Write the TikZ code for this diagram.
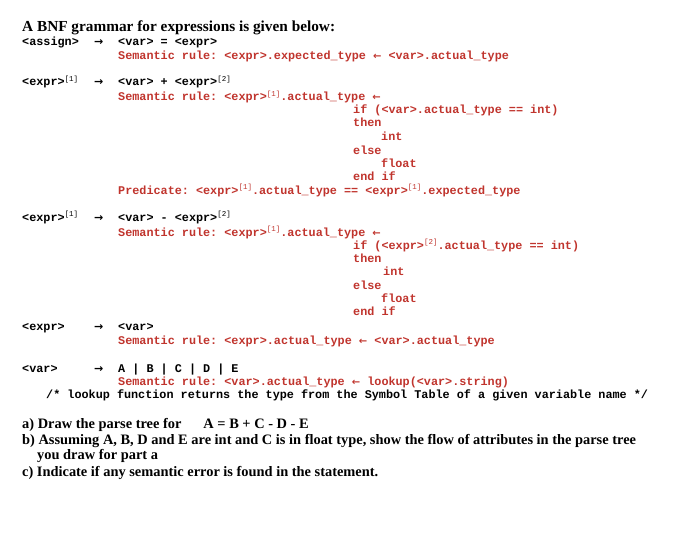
\documentclass[tikz,border=0pt]{standalone}
\usepackage{fontspec}
\setmainfont{Liberation Serif}
\setmonofont{Liberation Mono}
\newfontfamily\arrfont{DejaVu Sans}
\definecolor{semred}{RGB}{192,52,45}
\newcommand{\RA}{{\arrfont\fontsize{11}{11}\selectfont →}}
\newcommand{\LA}{{\arrfont\fontsize{10}{10}\selectfont ←}}
\newcommand{\ssp}[1]{\raisebox{0.4em}{\mdseries\fontsize{7.5}{8}\selectfont[#1]}}
\tikzset{
 x=1pt,y=1pt,
 code/.style={anchor=base west,inner sep=0pt,font=\ttfamily\bfseries\fontsize{11.8}{12}\selectfont},
 sem/.style={code,text=semred},
 ttl/.style={anchor=base west,inner sep=0pt,font=\bfseries\fontsize{15.3}{16}\selectfont},
 qst/.style={anchor=base west,inner sep=0pt,font=\bfseries\fontsize{14.4}{15}\selectfont},
}
\begin{document}
\begin{tikzpicture}
\useasboundingbox (0,0) rectangle (700,-540);
\node[ttl] (t) at (22,-32) {A BNF grammar for expressions is given below:};
% assign
\node[code] (a1) at (22,-46) {<assign>};
\node[code] (a2) at (94,-46) {\RA};
\node[code] (a3) at (118,-46) {<var> = <expr>};
\node[sem] (a4) at (118,-60) {Semantic rule: <expr>.expected\_type \LA{} <var>.actual\_type};
% expr +
\node[code] (b1) at (22,-86) {<expr>\ssp{1}};
\node[code] (b2) at (94,-86) {\RA};
\node[code] (b3) at (118,-86) {<var> + <expr>\ssp{2}};
\node[sem] (b4) at (118,-101) {Semantic rule: <expr>\ssp{1}.actual\_type \LA};
\node[sem] (b5) at (353,-114) {if (<var>.actual\_type == int)};
\node[sem] (b6) at (353,-127) {then};
\node[sem] (b7) at (381,-141) {int};
\node[sem] (b8) at (353,-154) {else};
\node[sem] (b9) at (381,-167) {float};
\node[sem] (b10) at (353,-180) {end if};
\node[sem] (b11) at (118,-194) {Predicate: <expr>\ssp{1}.actual\_type == <expr>\ssp{1}.expected\_type};
% expr -
\node[code] (c1) at (22,-221) {<expr>\ssp{1}};
\node[code] (c2) at (94,-221) {\RA};
\node[code] (c3) at (118,-221) {<var> - <expr>\ssp{2}};
\node[sem] (c4) at (118,-236) {Semantic rule: <expr>\ssp{1}.actual\_type \LA};
\node[sem] (c5) at (353,-249) {if (<expr>\ssp{2}.actual\_type == int)};
\node[sem] (c6) at (353,-262) {then};
\node[sem] (c7) at (383,-275) {int};
\node[sem] (c8) at (353,-289) {else};
\node[sem] (c9) at (381,-302) {float};
\node[sem] (c10) at (353,-315) {end if};
% expr -> var
\node[code] (d1) at (22,-330) {<expr>};
\node[code] (d2) at (94,-330) {\RA};
\node[code] (d3) at (118,-330) {<var>};
\node[sem] (d4) at (118,-344) {Semantic rule: <expr>.actual\_type \LA{} <var>.actual\_type};
% var
\node[code] (e1) at (22,-372) {<var>};
\node[code] (e2) at (94,-372) {\RA};
\node[code] (e3) at (118,-372) {A | B | C | D | E};
\node[sem] (e4) at (118,-385) {Semantic rule: <var>.actual\_type \LA{} lookup(<var>.string)};
\node[code] (e5) at (46,-398) {/* lookup function returns the type from the Symbol Table of a given variable name */};
% questions
\node[qst] (q1) at (22,-428) {a) Draw the parse tree for\hspace{22pt}A = B + C - D - E};
\node[qst] (q2) at (22,-444) {b) Assuming A, B, D and E are int and C is in float type, show the flow of attributes in the parse tree};
\node[qst] (q3) at (37,-459) {you draw for part a};
\node[qst] (q4) at (22,-476) {c) Indicate if any semantic error is found in the statement.};
\end{tikzpicture}
\end{document}
